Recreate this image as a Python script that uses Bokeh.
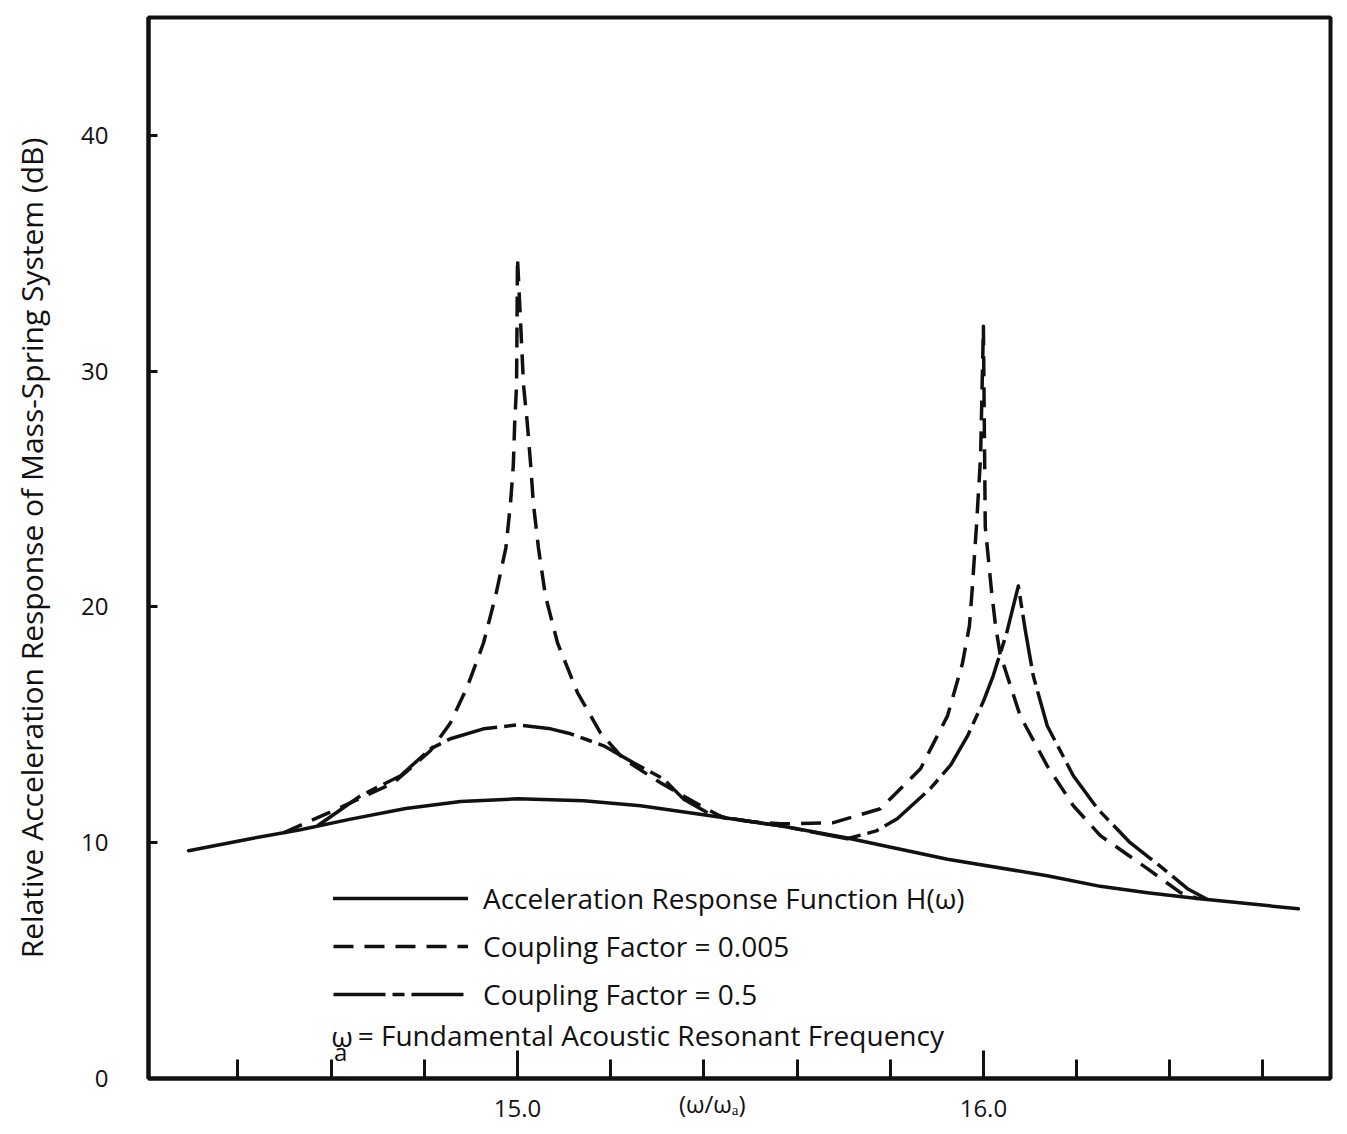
from bokeh.plotting import figure
from bokeh.models import (Range1d, FixedTicker, Label, Legend, LegendItem, LinearAxis)
from bokeh.embed import file_html
from bokeh.resources import INLINE

# ---------------- data ----------------
h_x = [14.294, 14.427, 14.534, 14.642, 14.76, 14.878, 15.0, 15.142, 15.264,
       15.414, 15.5, 15.564, 15.708, 15.923, 16.137, 16.251, 16.352, 16.459, 16.676]
h_y = [9.66, 10.17, 10.55, 11.0, 11.45, 11.75, 11.86, 11.78, 11.57,
       11.14, 10.9, 10.72, 10.2, 9.3, 8.6, 8.15, 7.88, 7.63, 7.2]

c005_x = [14.498, 14.614, 14.734, 14.813, 14.856, 14.893, 14.927, 14.953, 14.975,
          14.985, 14.991, 14.994, 14.998, 15.0, 15.013, 15.021, 15.028, 15.034,
          15.045, 15.06, 15.086, 15.129, 15.178, 15.227, 15.307, 15.393, 15.442,
          15.5, 15.564, 15.678, 15.779, 15.865, 15.923, 15.955, 15.97, 15.976,
          15.985, 15.994, 16.0, 16.004, 16.017, 16.026, 16.036, 16.079, 16.137,
          16.193, 16.251, 16.352, 16.423, 16.46]
c005_y = [10.42, 11.44, 12.54, 13.9, 15.08, 16.65, 18.47, 20.47, 22.5,
          24.4, 26.0, 27.8, 29.4, 34.8, 29.4, 27.8, 26.1, 24.4,
          22.5, 20.47, 18.47, 16.36, 14.66, 13.56, 12.54, 11.57, 11.06,
          10.9, 10.8, 10.85, 11.44, 13.14, 15.38, 17.6, 19.2, 20.76,
          23.4, 26.4, 31.9, 23.4, 20.76, 19.2, 18.0, 15.38, 13.26,
          11.57, 10.3, 8.9, 7.88, 7.63]

c05_x = [14.571, 14.663, 14.749, 14.813, 14.856, 14.927, 15.0, 15.071, 15.114,
         15.185, 15.249, 15.313, 15.356, 15.408, 15.45, 15.5, 15.564, 15.708,
         15.77, 15.815, 15.886, 15.93, 15.966, 16.0, 16.021, 16.05, 16.075,
         16.09, 16.107, 16.137, 16.193, 16.245, 16.315, 16.386, 16.438, 16.48]
c05_y = [10.72, 11.99, 12.84, 13.98, 14.41, 14.83, 15.0, 14.83, 14.62,
         14.11, 13.39, 12.71, 11.86, 11.27, 11.05, 10.9, 10.72, 10.17,
         10.5, 11.02, 12.29, 13.3, 14.53, 16.0, 17.08, 18.9, 20.89,
         19.0, 17.08, 14.96, 12.84, 11.44, 10.0, 8.9, 8.05, 7.6]

x_major = [15.0, 16.0]
x_major_labels = ["15.0", "16.0"]
x_minor = [14.4, 14.6, 14.8, 15.2, 15.4, 15.6, 15.8, 16.2, 16.4, 16.6]
y_ticks = [0, 10, 20, 30, 40]
x_title = "(ω/ωₐ)"
x_title_pos = 15.418

series_labels = ["Acceleration Response Function H(ω)",
                 "Coupling Factor = 0.005",
                 "Coupling Factor = 0.5"]
y_title = "Relative Acceleration Response of Mass-Spring System (dB)"

FONT = "Open Sans"
INK = "#111111"

p = figure(width=1347, height=1134, output_backend="svg", toolbar_location=None,
           x_range=Range1d(14.208, 16.745), y_range=Range1d(0, 45),
           min_border_left=148, min_border_right=17, min_border_top=17,
           min_border_bottom=56)
p.background_fill_color = "white"
p.border_fill_color = "white"
p.outline_line_color = INK
p.outline_line_width = 4
p.xgrid.visible = False
p.ygrid.visible = False

# x axis: tick marks and tick labels
xa = p.xaxis[0]
xa.ticker = FixedTicker(ticks=x_major, minor_ticks=x_minor)
xa.major_label_overrides = {t: s for t, s in zip(x_major, x_major_labels)}
xa.axis_line_width = 4
xa.axis_line_color = INK
xa.major_tick_in = 28
xa.major_tick_out = 0
xa.minor_tick_in = 19
xa.minor_tick_out = 0
xa.major_tick_line_width = 3
xa.minor_tick_line_width = 3
xa.major_tick_line_color = INK
xa.minor_tick_line_color = INK
xa.major_label_text_font = FONT
xa.major_label_text_font_size = "24px"
xa.major_label_text_color = INK
xa.major_label_standoff = 21

# second x axis carrying only the axis title, pulled up to the tick-label row
xa2 = LinearAxis(ticker=FixedTicker(ticks=[x_title_pos], minor_ticks=[]),
                 major_label_overrides={x_title_pos: x_title},
                 axis_line_color=None, major_tick_line_color=None,
                 minor_tick_line_color=None, major_tick_in=0, major_tick_out=0,
                 major_label_text_font=FONT, major_label_text_font_size="24px",
                 major_label_text_color=INK, major_label_standoff=-33)
p.add_layout(xa2, "below")

# y axis
ya = p.yaxis[0]
ya.ticker = FixedTicker(ticks=y_ticks, minor_ticks=[])
ya.axis_line_width = 4
ya.axis_line_color = INK
ya.major_tick_in = 9
ya.major_tick_out = 0
ya.major_tick_line_width = 3
ya.major_tick_line_color = INK
ya.minor_tick_line_color = None
ya.major_label_text_font = FONT
ya.major_label_text_font_size = "24px"
ya.major_label_text_color = INK
ya.major_label_standoff = 40
ya.axis_label = y_title
ya.axis_label_text_font = FONT
ya.axis_label_text_font_style = "normal"
ya.axis_label_text_font_size = "30px"
ya.axis_label_text_color = INK
ya.axis_label_standoff = 26

# curves
r_h = p.line(h_x, h_y, line_color=INK, line_width=3.5, line_join="round", line_cap="round")
r_c1 = p.line(c005_x, c005_y, line_color=INK, line_width=3.5, line_dash="20 11",
              line_join="round")
r_c2 = p.line(c05_x, c05_y, line_color=INK, line_width=3.5, line_dash="52 7 12 7",
              line_join="round")

legend = Legend(items=[LegendItem(label=series_labels[0], renderers=[r_h]),
                       LegendItem(label=series_labels[1], renderers=[r_c1]),
                       LegendItem(label=series_labels[2], renderers=[r_c2])],
                location=(185, 64), orientation="vertical",
                glyph_width=135, glyph_height=40, label_height=40,
                label_standoff=15, spacing=8, padding=0, margin=0,
                border_line_color=None, background_fill_alpha=0,
                label_text_font=FONT, label_text_font_size="28px",
                label_text_color=INK)
p.add_layout(legend, "center")

# note line (omega with subscript a)
lab_kw = dict(text_font=FONT, text_color=INK, text_font_size="28px")
p.add_layout(Label(x=14.600, y=1.8, text="ω", text_baseline="middle", **lab_kw))
p.add_layout(Label(x=14.606, y=1.15, text="a", text_baseline="middle",
                   text_font=FONT, text_color=INK, text_font_size="24px"))
p.add_layout(Label(x=14.657, y=1.85, text="= Fundamental Acoustic Resonant Frequency",
                   text_baseline="middle", **lab_kw))

open("out.html", "w").write(file_html(p, INLINE))
